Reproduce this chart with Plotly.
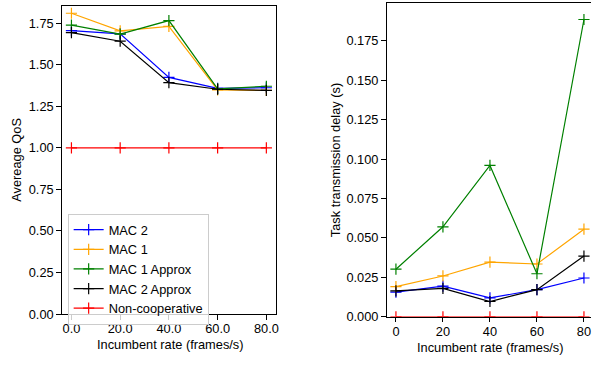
import plotly.graph_objects as go

x_rate = [0, 20, 40, 60, 80]

qos_mac2 = [1.705, 1.685, 1.423, 1.357, 1.361]
qos_mac1 = [1.809, 1.703, 1.730, 1.348, 1.345]
qos_mac1_approx = [1.738, 1.683, 1.765, 1.355, 1.370]
qos_mac2_approx = [1.693, 1.641, 1.392, 1.352, 1.345]
qos_noncoop = [1.0, 1.0, 1.0, 1.0, 1.0]

delay_mac2 = [0.0157, 0.0194, 0.0120, 0.0172, 0.0246]
delay_mac1 = [0.0192, 0.0259, 0.0347, 0.0335, 0.0556]
delay_mac1_approx = [0.0302, 0.0571, 0.0960, 0.0273, 0.1886]
delay_mac2_approx = [0.0165, 0.0180, 0.0097, 0.0172, 0.0385]
delay_noncoop = [0.0, 0.0, 0.0, 0.0, 0.0]

names = ["MAC 2", "MAC 1", "MAC 1 Approx", "MAC 2 Approx", "Non-cooperative"]
colors = ["#0000ff", "#ffa500", "#008000", "#000000", "#ff0000"]
qos_series = [qos_mac2, qos_mac1, qos_mac1_approx, qos_mac2_approx, qos_noncoop]
delay_series = [delay_mac2, delay_mac1, delay_mac1_approx, delay_mac2_approx, delay_noncoop]

left_xticks = [0, 20, 40, 60, 80]
left_xticklabels = ["0.0", "20.0", "40.0", "60.0", "80.0"]
left_yticks = [0, 0.25, 0.5, 0.75, 1.0, 1.25, 1.5, 1.75]
left_yticklabels = ["0.00", "0.25", "0.50", "0.75", "1.00", "1.25", "1.50", "1.75"]
right_xticks = [0, 20, 40, 60, 80]
right_xticklabels = ["0", "20", "40", "60", "80"]
right_yticks = [0, 0.025, 0.05, 0.075, 0.1, 0.125, 0.15, 0.175]
right_yticklabels = ["0.000", "0.025", "0.050", "0.075", "0.100", "0.125", "0.150", "0.175"]

FONT = "Liberation Sans, Arial, sans-serif"
FS = 12.8
W, H = 594, 365

fig = go.Figure()
for name, col, ys in zip(names, colors, qos_series):
    fig.add_trace(go.Scatter(
        x=x_rate, y=ys, name=name, mode="lines+markers",
        line=dict(color=col, width=1.2),
        marker=dict(symbol="cross-thin", size=8, line=dict(color=col, width=1.2)),
        xaxis="x", yaxis="y", showlegend=True))
for name, col, ys in zip(names, colors, delay_series):
    fig.add_trace(go.Scatter(
        x=x_rate, y=ys, name=name, mode="lines+markers",
        line=dict(color=col, width=1.2),
        marker=dict(symbol="cross-thin", size=8, line=dict(color=col, width=1.2)),
        xaxis="x2", yaxis="y2", showlegend=False))

axis_common = dict(showline=True, linecolor="black", linewidth=1, ticks="outside",
                   ticklen=4.5, tickcolor="black", tickwidth=1, showgrid=False,
                   zeroline=False, tickfont=dict(family=FONT, size=FS, color="black"))


def ann(text, x, y, angle=0):
    return dict(text=text, x=x / W, y=(H - y) / H, xref="paper", yref="paper",
                xanchor="center", yanchor="middle", textangle=angle, showarrow=False,
                font=dict(family=FONT, size=FS, color="black"))


fig.update_layout(
    width=W, height=H,
    margin=dict(l=0, r=0, t=0, b=0),
    paper_bgcolor="white", plot_bgcolor="white",
    font=dict(family=FONT, size=FS, color="black"),
    xaxis=dict(domain=[62 / W, 277.5 / W], range=[-4, 84], tickvals=left_xticks,
               ticktext=left_xticklabels, mirror=True, anchor="y", ticklabelstandoff=-2,
               **axis_common),
    yaxis=dict(domain=[(H - 320.3) / H, (H - 5.7) / H], range=[0, 1.855], tickvals=left_yticks,
               ticktext=left_yticklabels, mirror=True, anchor="x", **axis_common),
    xaxis2=dict(domain=[388.5 / W, 1.0], range=[-4, 83], tickvals=right_xticks,
                ticktext=right_xticklabels, mirror=True, anchor="y2", ticklabelstandoff=-2,
                **axis_common),
    yaxis2=dict(domain=[(H - 323) / H, (H - 3) / H], range=[0, 0.1991], tickvals=right_yticks,
                ticktext=right_yticklabels, mirror=False, anchor="x2", **axis_common),
    legend=dict(x=68 / W, y=(H - 218) / H, xanchor="left", yanchor="top",
                bgcolor="rgba(255,255,255,0.8)", bordercolor="#cccccc", borderwidth=1,
                font=dict(family=FONT, size=FS, color="black"), itemwidth=30,
                tracegroupgap=0),
    annotations=[
        ann("Avereage QoS", 17, 163, -90),
        ann("Incumbent rate (frames/s)", 171, 351.5),
        ann("Task transmission delay (s)", 338, 163, -90),
        ann("Incumbent rate (frames/s)", 493, 354),
    ],
)

fig.write_html("out.html")
